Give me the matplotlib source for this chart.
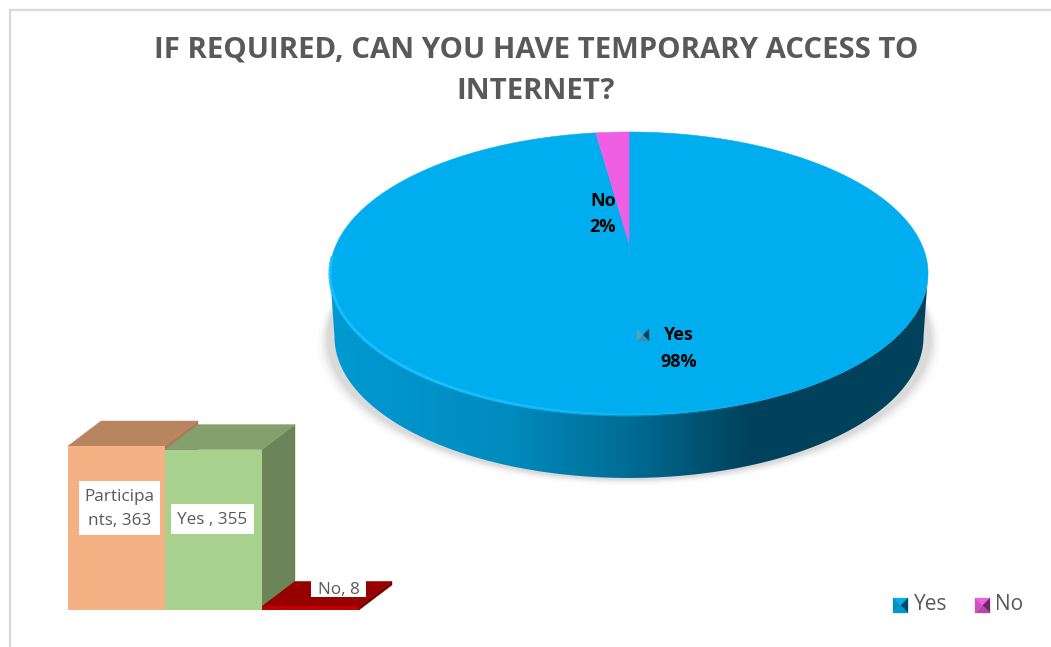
import numpy as np
import matplotlib
matplotlib.use('Agg')
import matplotlib.pyplot as plt
from matplotlib.collections import LineCollection
from matplotlib.colors import LinearSegmentedColormap
from matplotlib.patches import Polygon

TITLE = 'IF REQUIRED, CAN YOU HAVE TEMPORARY ACCESS TO\nINTERNET?'

pie_labels = ['Yes', 'No']
pie_counts = [355, 8]
pie_percents = ['98%', '2%']

bar_names = ['Participa\nnts', 'Yes ', 'No']
bar_counts = [363, 355, 8]

FONT = 'Open Sans'
GREY = '#595959'


def disc(theta, drop=0, shrink=1.0):
    # theta is clockwise from 12 o'clock, the projection gives the tilted look
    u = np.sin(theta)
    v = np.cos(theta)
    w = 0.2155 * v + 1
    x = 629 + 292 * shrink * u / w
    y = (243 - 82.55 * v) / w + drop
    return x, y


def pie_slice(start, end):
    theta = np.linspace(start, end, 300)
    x, y = disc(theta)
    return np.column_stack([np.r_[629, x], np.r_[243, y]])


def pyramid_key(ax, x, y, size, top, left, right, bottom):
    # small legend key made of four triangles
    c = (x + size / 2, y + size / 2)
    corners = [(x, y), (x + size, y), (x + size, y + size), (x, y + size)]
    for i, col in enumerate([top, right, bottom, left]):
        ax.add_patch(Polygon([corners[i], corners[(i + 1) % 4], c], closed=True,
                             facecolor=col, edgecolor=col, linewidth=0.2, zorder=8))


fig = plt.figure(figsize=(10.51, 6.47), dpi=100)
ax = fig.add_axes([0, 0, 1, 1])
ax.set_xlim(0, 1051)
ax.set_ylim(647, 0)
ax.axis('off')

# chart frame
ax.plot([9.5, 9.5], [10, 647], color='#d9d9d9', lw=1.6)
ax.plot([9.5, 1051], [10, 10], color='#d9d9d9', lw=1.6)

ax.text(536, 70.5, TITLE, ha='center', va='center', fontsize=21.2, family=FONT,
        weight='bold', color=GREY, linespacing=1.55)

# widest point of the projected disc, the wall starts there
edge = 0.217

# soft shadow below the pie
th = np.linspace(0, 2 * np.pi, 400)
for grow, alpha in zip([12, 9, 7, 5, 3], [0.02, 0.025, 0.03, 0.035, 0.04]):
    x, y = disc(th, drop=63 + grow * 0.6, shrink=1 + grow / 292)
    ax.fill(x, y, color='black', alpha=alpha, lw=0, zorder=1)

# pie wall, shaded from left to right
th = np.linspace(np.pi / 2 + edge, 3 * np.pi / 2 - edge, 300)
xt, yt = disc(th)
xb, yb = disc(th, drop=63, shrink=0.985)
wall = Polygon(np.column_stack([np.r_[xt, xb[::-1]], np.r_[yt, yb[::-1]]]), closed=True,
               facecolor='none', edgecolor='none', zorder=2)
ax.add_patch(wall)
wall_cmap = LinearSegmentedColormap.from_list(
    'wall', [(0, '#009AD2'), (0.3, '#008BBE'), (0.5, '#006C94'), (0.7, '#00425C'), (1, '#00425C')])
grad = ax.imshow(np.linspace(0, 1, 512)[None, :], extent=(330, 928, 500, 200), cmap=wall_cmap,
                 aspect='auto', zorder=2)
grad.set_clip_path(wall)
ax.set_xlim(0, 1051)
ax.set_ylim(647, 0)

# pie top
total = sum(pie_counts)
start = 0.0
slice_colors = ['#00AEEF', '#F05FE3']
for count, col in zip(pie_counts, slice_colors):
    end = start + 2 * np.pi * count / total
    ax.add_patch(Polygon(pie_slice(start, end), closed=True, facecolor=col, edgecolor=col,
                         linewidth=0.4, zorder=3))
    start = end

# bright rim along the front edge, fading to the right
th = np.linspace(3 * np.pi / 2 - edge + 0.12, np.pi / 2 + edge, 300)
x, y = disc(th)
pts = np.column_stack([x, y]).reshape(-1, 1, 2)
segs = np.concatenate([pts[:-1], pts[1:]], axis=1)
rim_alpha = np.clip((760 - x[:-1]) / 300, 0, 1)
rim_cols = np.zeros((len(segs), 4))
rim_cols[:, :3] = matplotlib.colors.to_rgb('#18C0FF')
rim_cols[:, 3] = rim_alpha
ax.add_collection(LineCollection(segs, colors=rim_cols, linewidths=2.2, zorder=4))

# pie labels
ax.text(603, 201, pie_labels[1], ha='center', va='center', fontsize=13, family=FONT,
        weight='bold', color='black', zorder=6)
ax.text(603, 227, pie_percents[1], ha='center', va='center', fontsize=13, family=FONT,
        weight='bold', color='black', zorder=6)
ax.text(678, 335, pie_labels[0], ha='center', va='center', fontsize=13, family=FONT,
        weight='bold', color='black', zorder=6)
ax.text(679, 362, pie_percents[0], ha='center', va='center', fontsize=13, family=FONT,
        weight='bold', color='black', zorder=6)
pyramid_key(ax, 637, 329, 12, '#00AEEF', '#4FA3C4', '#00425C', '#3E8CAD')

# 3d bars
base_y = 610
px_per_unit = 164 / 363
bar_w = 97
depth_x, depth_y = 33, 25
bar_lefts = [68, 165, 262]
front_cols = ['#F4B183', '#A9D18E', '#C00000']
top_cols = ['#B98460', '#84A16D', '#960000']
side_cols = ['#A9795A', '#6B8559', '#7A0000']

for left, count, fc, tc, sc in zip(bar_lefts, bar_counts, front_cols, top_cols, side_cols):
    top = base_y - count * px_per_unit
    right = left + bar_w
    ax.add_patch(Polygon([(right, base_y), (right + depth_x, base_y - depth_y),
                          (right + depth_x, top - depth_y), (right, top)],
                         closed=True, facecolor=sc, edgecolor=sc, linewidth=0.3, zorder=3))
    ax.add_patch(Polygon([(left, top), (left + depth_x, top - depth_y),
                          (right + depth_x, top - depth_y), (right, top)],
                         closed=True, facecolor=tc, edgecolor=tc, linewidth=0.3, zorder=3))
    ax.fill_between([left, right], top, base_y, color=fc, lw=0, zorder=3)

# white value boxes on the bars
label_pos = [(119.5, 508), (212.5, 519), (338.5, 589)]
box_pads = [(81, 54), (83, 30), (55, 16)]
for name, count, (lx, ly), (bw, bh) in zip(bar_names, bar_counts, label_pos, box_pads):
    ax.fill_between([lx - bw / 2, lx + bw / 2], ly - bh / 2, ly + bh / 2, color='white', lw=0, zorder=5)
    ax.text(lx, ly + 1, f'{name}, {count}', ha='center', va='center', fontsize=12.3, family=FONT,
            color=GREY, zorder=6, linespacing=1.65)

# legend
pyramid_key(ax, 893, 598, 15, '#00AEEF', '#0090C0', '#004A68', '#0098CC')
ax.text(914, 605, pie_labels[0], ha='left', va='center', fontsize=15, family=FONT, color=GREY)
pyramid_key(ax, 975, 598, 15, '#F05FE3', '#D050C4', '#6B2A66', '#B048A8')
ax.text(995, 605, pie_labels[1], ha='left', va='center', fontsize=15, family=FONT, color=GREY)

fig.savefig('out.png', dpi=100)
